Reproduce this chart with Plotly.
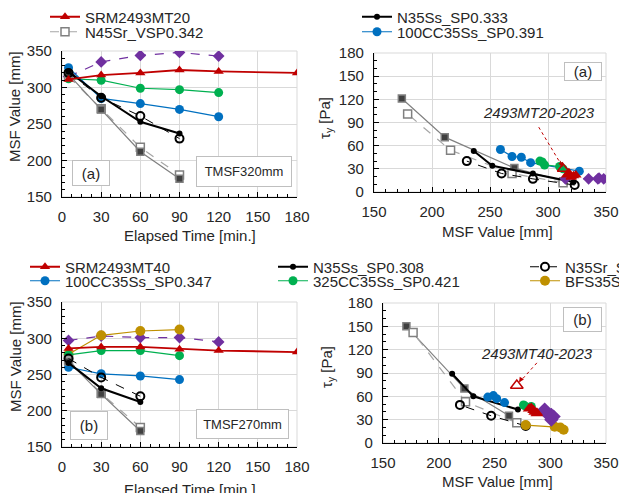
import plotly.graph_objects as go

W, H = 619, 493

# ---------------- data: (a) TMSF320mm ----------------
t6 = [5, 30, 60, 90, 120, 180]
t5 = [5, 30, 60, 90, 120]
t4 = [5, 30, 60, 90]
t3 = [5, 30, 60]

a_srm = [311, 317, 320, 324, 322, 320]
a_purple = [315, 335, 344, 348, 343]
a_green = [312, 310, 299, 297, 293]
a_blue = [327, 285, 278, 270, 260]
a_n35ss = [322, 288, 253, 237]
a_n35sr = [320, 286, 261, 230]
a_n45ss = [318, 270, 212, 175]
a_n45sr = [315, 271, 218, 180]

# tau vs MSF (a)
ta_n45ss_x = [313, 271, 211, 174]; ta_n45ss_y = [14, 31, 71, 121]
ta_n45sr_x = [313, 269, 216, 179]; ta_n45sr_y = [12, 24, 54, 101]
ta_n35ss_x = [322, 287, 252, 236]; ta_n35ss_y = [13, 24, 34, 53]
ta_n35sr_x = [323, 287, 260, 230]; ta_n35sr_y = [9, 17, 24, 40]
ta_blue_x = [327, 285, 277, 269, 259]; ta_blue_y = [27, 38, 45, 46, 55]
ta_green_x = [313, 310, 297, 295, 293]; ta_green_y = [30, 33, 35, 39, 40]
ta_srm_x = [316, 318, 320, 324, 322, 320]; ta_srm_y = [22, 25, 20, 22, 21, 19]
ta_purple_x = [315, 335, 344, 348, 343]; ta_purple_y = [17, 17, 18, 17, 17]
ta_2023_x = [313]; ta_2023_y = [30]

# ---------------- data: (b) TMSF270mm ----------------
b_srm = [286, 288, 288, 285, 283, 281]
b_purple = [297, 303, 301, 301, 295]
b_gold = [278, 304, 310, 312]
b_green = [277, 283, 283, 276]
b_blue = [260, 251, 248, 243]
b_n35ss = [266, 231, 212]
b_n35sr = [272, 246, 220]
b_n45ss = [268, 223, 172]
b_n45sr = [270, 224, 177]

tb_n45ss_x = [263, 223, 171]; tb_n45ss_y = [35, 70, 150]
tb_n45sr_x = [270, 224, 177]; tb_n45sr_y = [26, 53, 142]
tb_n35ss_x = [271, 231, 212]; tb_n35ss_y = [43, 60, 89]
tb_n35sr_x = [278, 247, 219]; tb_n35sr_y = [22, 35, 49]
tb_blue_x = [259, 252, 249, 244]; tb_blue_y = [52, 57, 61, 59]
tb_green_x = [276, 282, 283, 277]; tb_green_y = [49, 46, 47, 48]
tb_srm_x = [286, 288, 288, 285, 283, 281]; tb_srm_y = [40, 38, 39, 42, 45, 44]
tb_purple_x = [297, 303, 301, 301, 295]; tb_purple_y = [38, 34, 30, 36, 43]
tb_gold_x = [278, 304, 309, 312]; tb_gold_y = [23, 21, 20, 17]
tb_2023_x = [270]; tb_2023_y = [74]

RED = "#C00000"; BLUE = "#0070C0"; GREEN = "#00B050"; PURPLE = "#7030A0"
GOLD = "#BF9000"; GRAY = "#808080"; DKGRAY = "#404040"

FONT = "Liberation Sans, Arial, sans-serif"

styles = {
    "srm": dict(mode="lines+markers", line=dict(color=RED, width=1.8),
                marker=dict(symbol="triangle-up", size=9, color=RED)),
    "purple": dict(mode="lines+markers", line=dict(color=PURPLE, width=1.2, dash="dash"),
                   marker=dict(symbol="diamond", size=9, color=PURPLE)),
    "green": dict(mode="lines+markers", line=dict(color=GREEN, width=1.2),
                  marker=dict(symbol="circle", size=9, color=GREEN)),
    "blue": dict(mode="lines+markers", line=dict(color=BLUE, width=1.2),
                 marker=dict(symbol="circle", size=9, color=BLUE)),
    "gold": dict(mode="lines+markers", line=dict(color=GOLD, width=1.2),
                 marker=dict(symbol="circle", size=10, color=GOLD)),
    "n35ss": dict(mode="lines+markers", line=dict(color="black", width=2),
                  marker=dict(symbol="circle", size=6, color="black")),
    "n35sr": dict(mode="lines+markers", line=dict(color="black", width=1, dash="dash"),
                  marker=dict(symbol="circle-open", size=8, color="black", line=dict(width=2))),
    "n45ss": dict(mode="lines+markers", line=dict(color=GRAY, width=1.2),
                  marker=dict(symbol="square", size=7, color=DKGRAY, line=dict(color=GRAY, width=1.5))),
    "n45sr": dict(mode="lines+markers", line=dict(color="#A6A6A6", width=1.2, dash="dash"),
                  marker=dict(symbol="square", size=8, color="white", line=dict(color=GRAY, width=1.5))),
}

fig = go.Figure()

def add(key, x, y, xa, ya, name, legend=None):
    st = styles[key]
    kw = dict(x=x, y=y, xaxis=xa, yaxis=ya, name=name, mode=st["mode"],
              line=st["line"], marker=st["marker"], showlegend=legend is not None)
    if legend is not None:
        kw["legend"] = legend
    fig.add_trace(go.Scatter(**kw))

# (a) time plots
add("purple", t5, a_purple, "x", "y", "N35Sr_VSP")
add("green", t5, a_green, "x", "y", "325CC35Ss_SP")
add("blue", t5, a_blue, "x", "y", "100CC35Ss_SP0.391", "legend4")
add("n45sr", t4, a_n45sr, "x", "y", "N45Sr_VSP0.342", "legend2")
add("n45ss", t4, a_n45ss, "x", "y", "N45Ss_VSP")
add("n35sr", t4, a_n35sr, "x", "y", "N35Sr_SP")
add("n35ss", t4, a_n35ss, "x", "y", "N35Ss_SP0.333", "legend3")
add("srm", t6, a_srm, "x", "y", "SRM2493MT20", "legend")

# (a) tau plots
add("n45ss", ta_n45ss_x, ta_n45ss_y, "x2", "y2", "N45Ss_VSP")
add("n45sr", ta_n45sr_x, ta_n45sr_y, "x2", "y2", "N45Sr_VSP0.342")
add("n35sr", ta_n35sr_x, ta_n35sr_y, "x2", "y2", "N35Sr_SP")
add("n35ss", ta_n35ss_x, ta_n35ss_y, "x2", "y2", "N35Ss_SP0.333")
add("blue", ta_blue_x, ta_blue_y, "x2", "y2", "100CC35Ss_SP0.391")
add("green", ta_green_x, ta_green_y, "x2", "y2", "325CC35Ss_SP")
add("purple", ta_purple_x, ta_purple_y, "x2", "y2", "N35Sr_VSP")
fig.add_trace(go.Scatter(x=ta_srm_x, y=ta_srm_y, xaxis="x2", yaxis="y2", mode="markers",
                         marker=dict(symbol="triangle-up", size=10, color=RED),
                         name="SRM2493MT20", showlegend=False))
fig.add_trace(go.Scatter(x=ta_2023_x, y=ta_2023_y, xaxis="x2", yaxis="y2", mode="markers",
                         marker=dict(symbol="triangle-up-open", size=10, color=RED, line=dict(width=1.5)),
                         name="2493MT20-2023", showlegend=False))

# (b) time plots
add("purple", t5, b_purple, "x3", "y3", "N35Sr_VSP")
add("gold", t4, b_gold, "x3", "y3", "BFS35Ss_SP0.352", "legend10")
add("green", t4, b_green, "x3", "y3", "325CC35Ss_SP0.421", "legend8")
add("blue", t4, b_blue, "x3", "y3", "100CC35Ss_SP0.347", "legend6")
add("n45sr", t3, b_n45sr, "x3", "y3", "N45Sr_VSP")
add("n45ss", t3, b_n45ss, "x3", "y3", "N45Ss_VSP")
add("n35sr", t3, b_n35sr, "x3", "y3", "N35Sr_SP0.316", "legend9")
add("n35ss", t3, b_n35ss, "x3", "y3", "N35Ss_SP0.308", "legend7")
add("srm", t6, b_srm, "x3", "y3", "SRM2493MT40", "legend5")

# (b) tau plots
add("n45ss", tb_n45ss_x, tb_n45ss_y, "x4", "y4", "N45Ss_VSP")
add("n45sr", tb_n45sr_x, tb_n45sr_y, "x4", "y4", "N45Sr_VSP")
add("n35sr", tb_n35sr_x, tb_n35sr_y, "x4", "y4", "N35Sr_SP0.316")
add("n35ss", tb_n35ss_x, tb_n35ss_y, "x4", "y4", "N35Ss_SP0.308")
add("blue", tb_blue_x, tb_blue_y, "x4", "y4", "100CC35Ss_SP0.347")
add("green", tb_green_x, tb_green_y, "x4", "y4", "325CC35Ss_SP0.421")
add("gold", tb_gold_x, tb_gold_y, "x4", "y4", "BFS35Ss_SP0.352")
fig.add_trace(go.Scatter(x=tb_purple_x, y=tb_purple_y, xaxis="x4", yaxis="y4", mode="markers",
                         marker=dict(symbol="diamond", size=11, color=PURPLE),
                         name="N35Sr_VSP", showlegend=False))
fig.add_trace(go.Scatter(x=tb_srm_x, y=tb_srm_y, xaxis="x4", yaxis="y4", mode="markers",
                         marker=dict(symbol="triangle-up", size=11, color=RED),
                         name="SRM2493MT40", showlegend=False))
fig.add_trace(go.Scatter(x=tb_2023_x, y=tb_2023_y, xaxis="x4", yaxis="y4", mode="markers",
                         marker=dict(symbol="triangle-up-open", size=11, color=RED, line=dict(width=1.5)),
                         name="2493MT40-2023", showlegend=False))

def px(x): return x / W
def py(y): return 1 - y / H

tickfont = dict(family=FONT, size=15, color="#262626")

def axis(domain, rng, dtick, minor, anchor):
    return dict(domain=domain, range=rng, dtick=dtick, tick0=rng[0], anchor=anchor,
                showgrid=True, gridcolor="#D9D9D9", gridwidth=1,
                showline=True, linecolor="black", linewidth=1.2,
                ticks="inside", ticklen=5, tickcolor="black", tickwidth=1,
                minor=dict(dtick=minor, tick0=rng[0], ticks="inside", ticklen=3,
                           tickcolor="black", showgrid=False),
                tickfont=tickfont, zeroline=False, fixedrange=True,
                ticklabeloverflow="allow", ticklabelstandoff=6)

xa1 = axis([px(62), px(297)], [0, 180], 30, 7.5, "y")
ya1 = axis([py(197), py(51)], [150, 350], 50, 10, "x")
xa2 = axis([px(374), px(606)], [150, 350], 50, 10, "y2")
ya2 = axis([py(192), py(53)], [0, 180], 30, 10, "x2")
xa3 = axis([px(62), px(297)], [0, 180], 30, 7.5, "y3")
ya3 = axis([py(447), py(302)], [150, 350], 50, 10, "x3")
xa4 = axis([px(383), px(606)], [150, 350], 50, 10, "y4")
ya4 = axis([py(443), py(303)], [0, 180], 30, 10, "x4")

shapes = []
for xr, yr in (("x", "y"), ("x2", "y2"), ("x3", "y3"), ("x4", "y4")):
    shapes.append(dict(type="rect", xref=xr + " domain", yref=yr + " domain",
                       x0=0, x1=1, y0=0, y1=1, line=dict(color="#D9D9D9", width=1),
                       layer="below"))
# dashed red arrows to the 2023 points
shapes.append(dict(type="line", xref="x2", yref="y2", x0=292, y0=84, x1=312, y1=34,
                   line=dict(color=RED, width=1, dash="dot")))
shapes.append(dict(type="line", xref="x4", yref="y4", x0=288, y0=103, x1=273, y1=79,
                   line=dict(color=RED, width=1, dash="dot")))

ann = []
def label(text, x, y, angle=0, size=15, italic=False):
    f = dict(family=FONT, size=size, color="#262626")
    if italic:
        f["style"] = "italic"
    ann.append(dict(text=text, x=px(x), y=py(y), xref="paper", yref="paper",
                    showarrow=False, textangle=angle, font=f,
                    xanchor="center", yanchor="middle"))

def box(text, x, y, w, h, size=15):
    ann.append(dict(text=text, x=px(x), y=py(y), xref="paper", yref="paper",
                    showarrow=False, width=w, height=h, borderpad=0,
                    bordercolor="#BFBFBF", borderwidth=1, bgcolor="white",
                    font=dict(family=FONT, size=size, color="#262626"),
                    xanchor="center", yanchor="middle", align="center", valign="middle"))

label("MSF Value [mm]", 15, 107, -90)
label("Elapsed Time [min.]", 190, 236)
label("τ<sub>y</sub> [Pa]", 326, 118, -90)
label("MSF Value [mm]", 497, 231)
label("MSF Value [mm]", 15, 357, -90)
label("Elapsed Time [min.]", 190, 489)
label("τ<sub>y</sub> [Pa]", 327, 367, -90)
label("MSF Value [mm]", 497, 481)

box("(a)", 91, 173, 36, 24)
box("TMSF320mm", 244, 172, 94, 29, 13)
box("(a)", 583, 71, 36, 17)
box("(b)", 89, 425, 36, 27)
box("TMSF270mm", 242, 424, 91, 28, 13)
box("(b)", 582, 319, 37, 23)

label("2493MT20-2023", 539, 112, italic=True)
label("2493MT40-2023", 537, 353, italic=True)

# arrowheads
ann.append(dict(x=312.5, y=32, xref="x2", yref="y2", ax=-3, ay=-8, showarrow=True,
                arrowhead=2, arrowsize=1, arrowwidth=1, arrowcolor=RED, text=""))
ann.append(dict(x=272, y=78, xref="x4", yref="y4", ax=4, ay=-6, showarrow=True,
                arrowhead=2, arrowsize=1, arrowwidth=1, arrowcolor=RED, text=""))

legfont = dict(family=FONT, size=15, color="#262626")
def leg(text_x, row_y):
    return dict(x=px(text_x - 40), y=py(row_y), xanchor="left", yanchor="middle",
                xref="paper", yref="paper", bgcolor="rgba(0,0,0,0)", borderwidth=0,
                font=legfont, itemwidth=30)

fig.update_layout(
    width=W, height=H, margin=dict(l=0, r=0, t=0, b=0, autoexpand=False),
    paper_bgcolor="white", plot_bgcolor="white",
    xaxis=xa1, yaxis=ya1, xaxis2=xa2, yaxis2=ya2,
    xaxis3=xa3, yaxis3=ya3, xaxis4=xa4, yaxis4=ya4,
    shapes=shapes, annotations=ann,
    legend=leg(85, 17), legend2=leg(85, 32), legend3=leg(397, 17), legend4=leg(397, 32),
    legend5=leg(65, 267), legend6=leg(65, 281), legend7=leg(313, 267), legend8=leg(313, 281),
    legend9=leg(565, 267), legend10=leg(565, 281),
)

fig.write_html("out.html", config={"displayModeBar": False},
               post_script="document.body.style.margin='0px';document.body.style.overflow='hidden';")
